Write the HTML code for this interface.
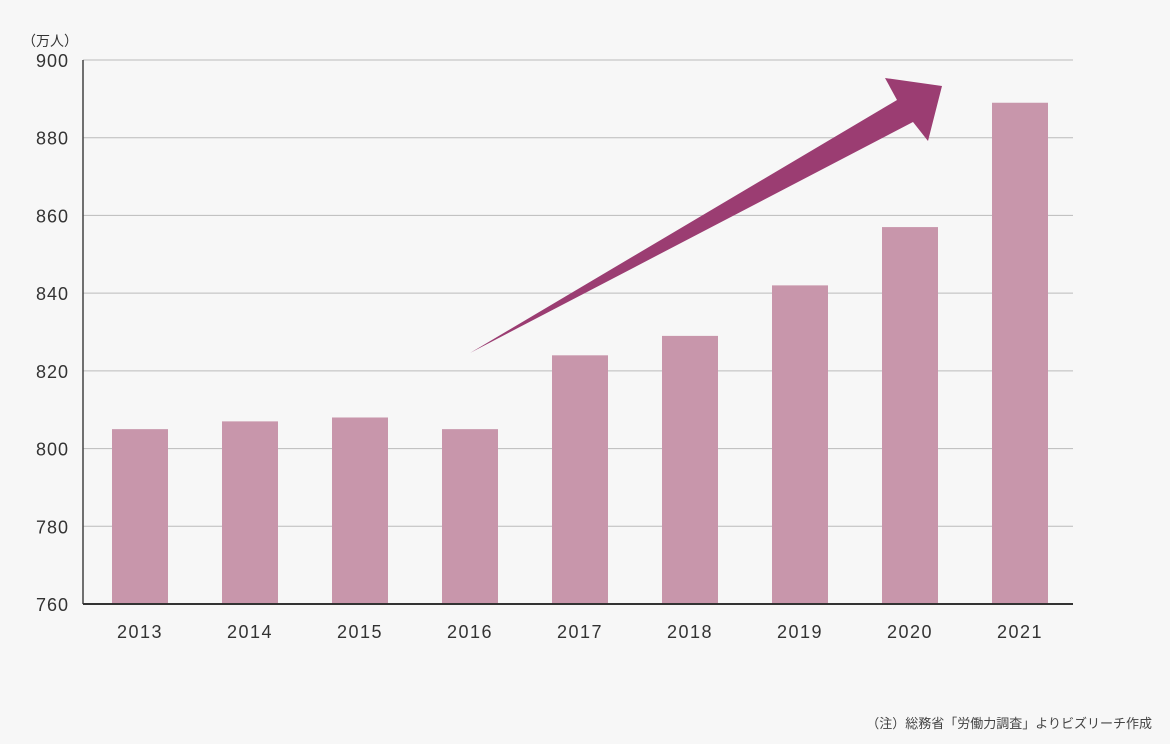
<!DOCTYPE html>
<html><head><meta charset="utf-8"><style>
body{margin:0;background:#f7f7f7;}
svg{display:block;font-family:"Liberation Sans","Noto Sans CJK JP",sans-serif;}
</style></head><body>
<svg width="1170" height="744" viewBox="0 0 1170 744">
<rect width="1170" height="744" fill="#f7f7f7"/>
<g id="grid"></g><g id="bars"></g><g id="ylabels"></g><g id="xlabels"></g>
<line x1="83" y1="60" x2="83" y2="604" stroke="#444" stroke-width="1.5"/>
<line x1="83" y1="604" x2="1073" y2="604" stroke="#333" stroke-width="2"/>
<text x="22" y="46" font-size="14" fill="#333">（万人）</text>
<polygon points="470,353 897,100 885,78 942,86 928,141 913,122" fill="#9b3d72"/>
<text x="1152" y="728" font-size="13" fill="#444" text-anchor="end">（注）総務省「労働力調査」よりビズリーチ作成</text>
</svg>
<script>
const categories=["2013","2014","2015","2016","2017","2018","2019","2020","2021"];
const values=[805,807,808,805,824,829,842,857,889];
const yTicks=[760,780,800,820,840,860,880,900];
const ns="http://www.w3.org/2000/svg";
const x0=83,x1=1073,yTop=60,yBot=604,yMin=760,yMax=900;
function y(v){return yBot-(v-yMin)/(yMax-yMin)*(yBot-yTop);}
const band=(x1-x0)/categories.length;
function xc(i){return x0+band*(i+0.5)+2;}
function mk(t,a,p){const e=document.createElementNS(ns,t);for(const k in a)e.setAttribute(k,a[k]);document.getElementById(p).appendChild(e);return e;}
yTicks.forEach(v=>{
 if(v>yMin){const l=mk("line",{x1:x0,x2:x1,y1:y(v),y2:y(v),stroke:"#bbb","stroke-width":1},"grid");
 
 }
 const t=mk("text",{x:69,y:y(v)+7,"font-size":18,fill:"#333","text-anchor":"end","letter-spacing":"1"},"ylabels");
 t.textContent=v;
 
 
});
categories.forEach((c,i)=>{
 const r=mk("rect",{x:xc(i)-28,y:y(values[i]),width:56,height:yBot-y(values[i]),fill:"#c896ab"},"bars");
 
 
 const t=mk("text",{x:xc(i),y:638,"font-size":18,fill:"#333","text-anchor":"middle","letter-spacing":"1.5"},"xlabels");
 t.textContent=c;
 
 
});
</script>
</body></html>
